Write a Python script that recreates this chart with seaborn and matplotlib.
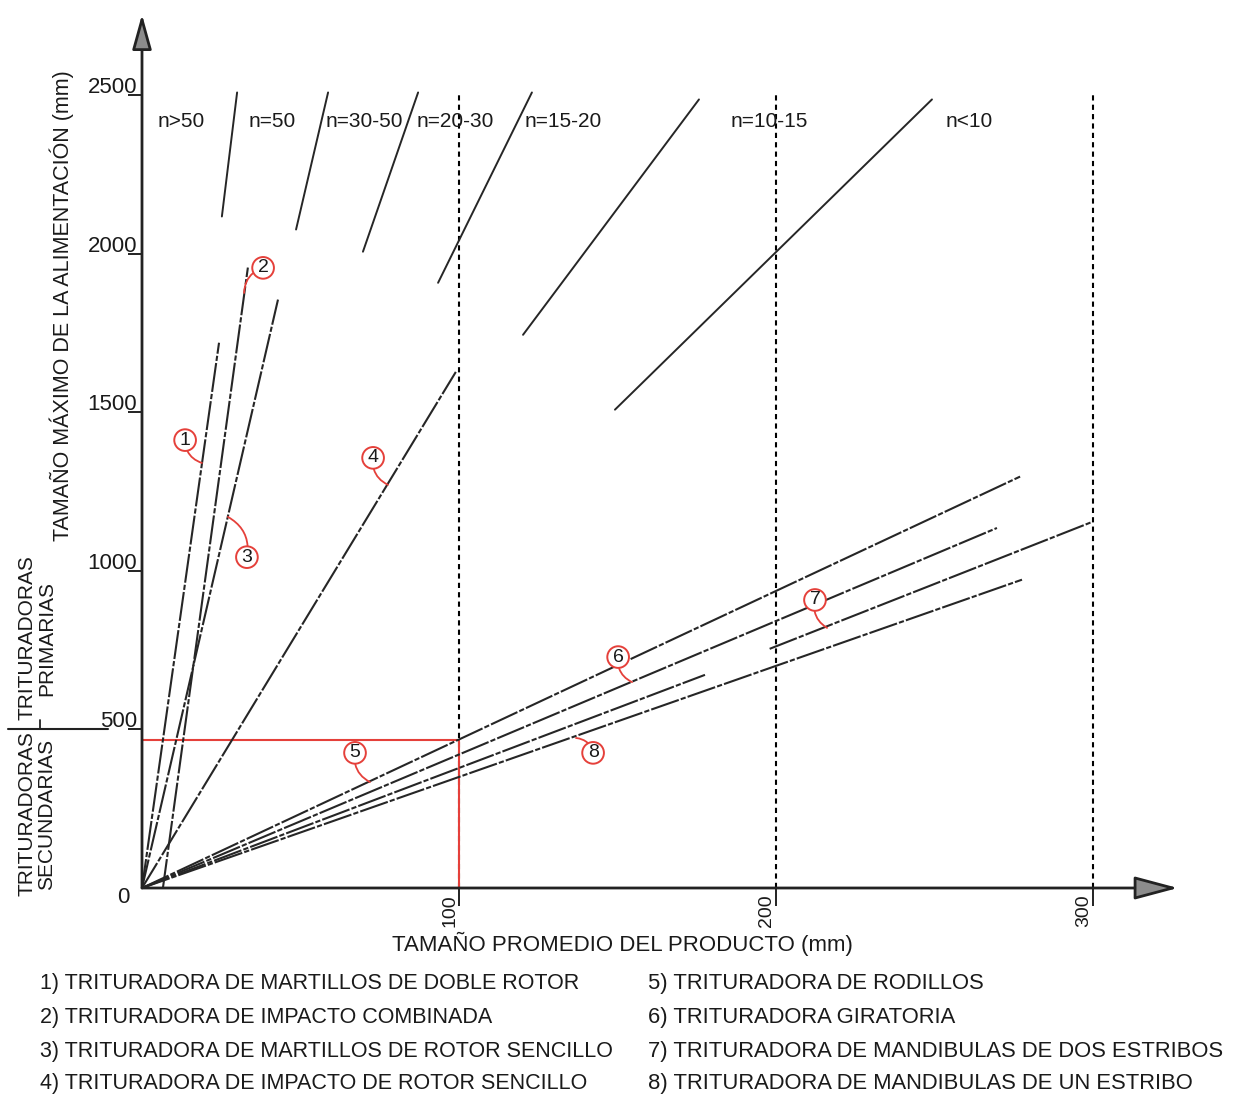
import matplotlib
matplotlib.use("Agg")
import matplotlib.pyplot as plt
import seaborn as sns
import numpy as np
import pandas as pd
from matplotlib.transforms import ScaledTranslation

# ---------------- data ----------------
# reduction-ratio boundary lines (top of chart)
ratio_x_start = [25.2, 48.6, 69.7, 93.4, 120.2, 149.2]
ratio_y_start = [2117, 2076, 2006, 1908, 1744, 1508]
ratio_x_end = [30.0, 58.7, 87.1, 123.0, 175.7, 249.2]
ratio_y_end = [2508, 2508, 2508, 2508, 2486, 2486]

n_labels = ["n>50", "n=50", "n=30-50", "n=20-30", "n=15-20", "n=10-15", "n<10"]
n_label_x = [12.3, 41.0, 70.0, 98.7, 133.0, 198.0, 261.0]
n_label_y = 2415

# crusher lines
crusher_line_names = ["1", "2", "3", "4", "5", "6", "6b", "7", "8"]
crusher_x_start = [0, 6.6, 0, 0, 0, 0, 0, 198.0, 0]
crusher_y_start = [0, 0, 0, 0, 0, 0, 0, 754, 0]
crusher_x_end = [24.3, 33.4, 42.9, 99.0, 277.0, 269.7, 177.6, 299.7, 277.6]
crusher_y_end = [1719, 1956, 1855, 1627, 1297, 1135, 672, 1154, 972]

# dotted reference lines
grid_x = [100, 200, 300]
grid_top = 2508

# red example lines
red_x = 100
red_y = 467

# numbered callouts
callout_labels = ["1", "2", "3", "4", "5", "6", "7", "8"]
callout_x = [13.6, 38.2, 33.1, 72.9, 67.2, 150.2, 212.3, 142.3]
callout_y = [1412, 1955, 1043, 1356, 426, 728, 908, 426]
callout_target_x = [18.9, 32.2, 27.1, 77.6, 71.9, 154.6, 216.1, 136.9]
callout_target_y = [1340, 1876, 1170, 1271, 334, 649, 820, 473]

x_ticks = [100, 200, 300]
y_ticks = [500, 1000, 1500, 2000, 2500]

legend_col1 = [
    "1) TRITURADORA DE MARTILLOS DE DOBLE ROTOR",
    "2) TRITURADORA DE IMPACTO COMBINADA",
    "3) TRITURADORA DE MARTILLOS DE ROTOR SENCILLO",
    "4) TRITURADORA DE IMPACTO DE ROTOR SENCILLO",
]
legend_col2 = [
    "5) TRITURADORA DE RODILLOS",
    "6) TRITURADORA GIRATORIA",
    "7) TRITURADORA DE MANDIBULAS DE DOS ESTRIBOS",
    "8) TRITURADORA DE MANDIBULAS DE UN ESTRIBO",
]

# ---------------- style ----------------
sns.set_theme(style="white")
plt.rcParams["font.family"] = ["Liberation Sans", "DejaVu Sans"]
TXT = "#1a1a1a"
RED = "#e5403a"
LINE = "#262626"

W, H = 1236, 1097
fig = plt.figure(figsize=(W / 100, H / 100), dpi=100)
ax = fig.add_axes([142 / W, (H - 888) / H, 330 * 3.17 / W, 2760 * 0.3172 / H])
ax.set_xlim(0, 330)
ax.set_ylim(0, 2760)
ax.patch.set_alpha(0)
for s in ax.spines.values():
    s.set_visible(False)


def seg(xs, ys, **kw):
    sns.lineplot(x=xs, y=ys, ax=ax, estimator=None, sort=False, **kw)


# dotted vertical reference lines
for xv in grid_x:
    seg([xv, xv], [0, grid_top], color="black", lw=1.5, linestyle=(0, (2.5, 2.0)), zorder=2)

# red example lines
seg([0, red_x, red_x], [red_y, red_y, 0], color=RED, lw=1.5, zorder=3)

# ratio lines
for x0, y0, x1, y1 in zip(ratio_x_start, ratio_y_start, ratio_x_end, ratio_y_end):
    seg([x0, x1], [y0, y1], color=LINE, lw=1.4, zorder=3)

for lab, lx in zip(n_labels, n_label_x):
    ax.text(lx, n_label_y, lab, ha="center", va="center", fontsize=15, color=TXT)

# crusher lines
for name, x0, y0, x1, y1 in zip(crusher_line_names, crusher_x_start, crusher_y_start,
                                 crusher_x_end, crusher_y_end):
    seg([x0, x1], [y0, y1], color=LINE, lw=1.5, linestyle=(0, (14, 1.0, 2.5, 1.0)), zorder=3)

# callouts
for lab, lx, ly, tx, ty in zip(callout_labels, callout_x, callout_y,
                               callout_target_x, callout_target_y):
    ax.annotate(lab, xy=(tx, ty), xytext=(lx, ly), ha="center", va="center",
                fontsize=14, color=TXT, zorder=5,
                bbox=dict(boxstyle="circle,pad=0.12", fc="white", ec=RED, lw=1.4),
                arrowprops=dict(arrowstyle="-", color=RED, lw=1.3,
                                connectionstyle="arc3,rad=0.35", shrinkA=0, shrinkB=0))

# axes with arrow heads
ax.annotate("", xy=(0, 2754), xytext=(0, 0), annotation_clip=False,
            arrowprops=dict(arrowstyle="-|>,head_length=1.08,head_width=0.3",
                            mutation_scale=20, lw=2, ec="#222222", fc="#8c8c8c",
                            shrinkA=0, shrinkB=0), zorder=6)
ax.annotate("", xy=(326.8, 0), xytext=(0, 0), annotation_clip=False,
            arrowprops=dict(arrowstyle="-|>,head_length=1.35,head_width=0.36",
                            mutation_scale=20, lw=2, ec="#222222", fc="#8c8c8c",
                            shrinkA=0, shrinkB=0), zorder=6)

# ticks
ax.set_xticks(x_ticks)
ax.set_xticklabels([str(v) for v in x_ticks], rotation=90, fontsize=14, color=TXT)
ax.tick_params(axis="x", bottom=True, direction="out", length=13, width=1.4,
               color="#222222", pad=-8.7)
off_x = ScaledTranslation(-9 / 100, 0, fig.dpi_scale_trans)
for lbl in ax.get_xticklabels():
    lbl.set_transform(lbl.get_transform() + off_x)

ax.set_yticks(y_ticks)
ax.set_yticklabels([str(v) for v in y_ticks], fontsize=16, color=TXT)
ax.tick_params(axis="y", left=True, direction="out", length=10, width=1.4,
               color="#222222", pad=-6.4)
off_y = ScaledTranslation(0, 2 / 100, fig.dpi_scale_trans)
for lbl in ax.get_yticklabels():
    lbl.set_va("baseline")
    lbl.set_transform(lbl.get_transform() + off_y)

ax.annotate("0", xy=(0, 0), xytext=(-13.7, -6.5), textcoords="offset points",
            ha="center", va="center", fontsize=16, color=TXT, annotation_clip=False)

# primary / secondary separator at the 500 level
ax.plot([-42.3, -10.7], [500, 500], color="#222222", lw=1.5, clip_on=False)
ax.plot([-32.2, -32.2], [500, 530], color="#222222", lw=1.3, clip_on=False)


def ft(px, py, s, **kw):
    fig.text(px / W, 1 - py / H, s, color=TXT, **kw)


ft(62, 306, "TAMAÑO MÁXIMO DE LA ALIMENTACIÓN (mm)", rotation=90,
   ha="center", va="center", fontsize=15.5)
ft(622, 944, "TAMAÑO PROMEDIO DEL PRODUCTO (mm)", ha="center", va="center", fontsize=16)
ft(37, 638, "TRITURADORAS\nPRIMARIAS", rotation=90, ha="center", va="center",
   multialignment="center", fontsize=15, linespacing=1.02)
ft(37, 814, "TRITURADORAS\nSECUNDARIAS", rotation=90, ha="center", va="center",
   multialignment="center", fontsize=15, linespacing=1.02)

row_y = [983, 1017, 1051, 1084]
for t, ry in zip(legend_col1, row_y):
    ft(40, ry, t, ha="left", va="center", fontsize=15.5)
for t, ry in zip(legend_col2, row_y):
    ft(648, ry, t, ha="left", va="center", fontsize=15.8)

fig.savefig("out.png", dpi=100, facecolor="white")
